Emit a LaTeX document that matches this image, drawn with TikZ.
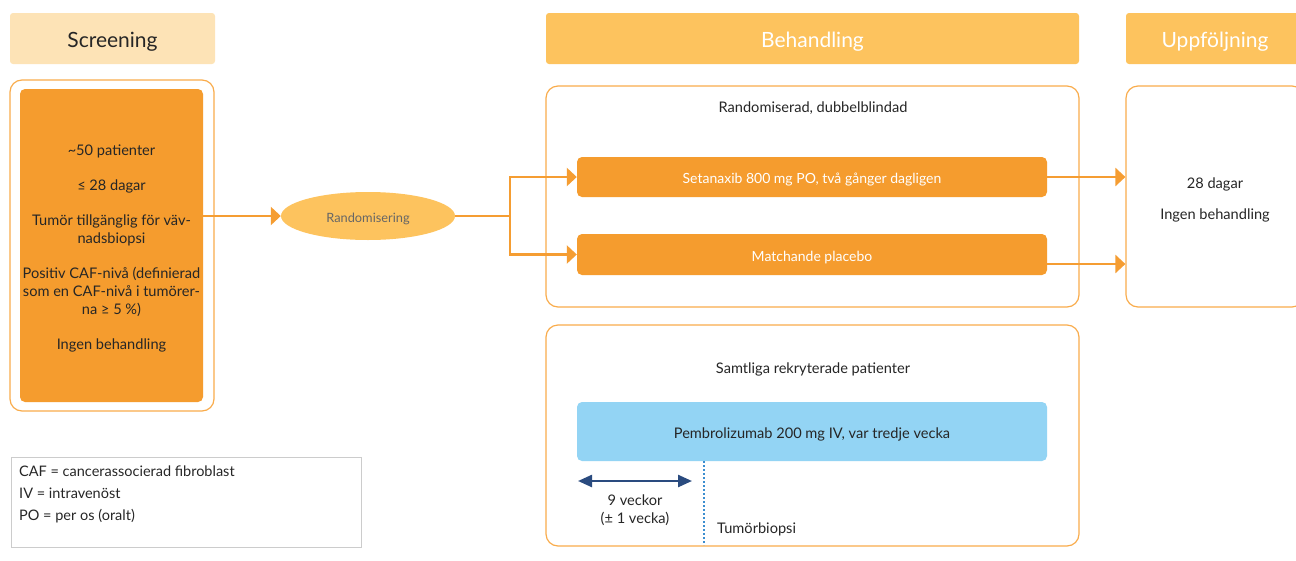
\documentclass[tikz,border=0pt]{standalone}
\usepackage{fontspec}
\setmainfont{Lato}
\usetikzlibrary{arrows.meta,shapes.geometric}
\definecolor{hdrlight}{HTML}{FDE3B6}
\definecolor{hdr}{HTML}{FDC35E}
\definecolor{obox}{HTML}{F59C2E}
\definecolor{outl}{HTML}{F9AC4C}
\definecolor{arrc}{HTML}{F59D32}
\definecolor{bluefill}{HTML}{93D4F4}
\definecolor{dblue}{HTML}{2A4B7F}
\definecolor{dotblue}{HTML}{3B8ED0}
\definecolor{txt}{HTML}{262626}
\definecolor{legb}{HTML}{CCCCCC}
\definecolor{graytxt}{HTML}{666666}
\tikzset{
  hdrbox/.style={fill=hdr, rounded corners=3pt, inner sep=0pt, text=white, font=\fontsize{21}{25}\selectfont, text height=21.5pt, text depth=4.5pt},
  framebox/.style={draw=outl, line width=1.2pt, rounded corners=12pt, fill=white, inner sep=0pt},
  armbox/.style={fill=obox, rounded corners=5pt, inner sep=0pt, text=white, font=\fontsize{14}{17}\selectfont, minimum width=470pt, text height=16.5pt, text depth=2.8pt},
  bodytxt/.style={text=txt, font=\fontsize{14.6}{17.8}\selectfont, align=center, inner sep=0pt},
  legtxt/.style={text=txt, font=\fontsize{14.5}{17}\selectfont, inner sep=0pt, anchor=base west},
  conn/.style={draw=arrc, line width=2.4pt},
  arr/.style={conn, -{Triangle[length=10pt,width=18pt]}},
}
\begin{document}
\begin{tikzpicture}[x=1pt,y=-1pt]
\useasboundingbox (0,0) rectangle (1296,560);
\clip (0,0) rectangle (1296,560);
% headers
\node[hdrbox, fill=hdrlight, text=txt, minimum width=205pt, minimum height=51pt] (hs) at (112.5,38.5) {Screening};
\node[hdrbox, minimum width=533pt, minimum height=51pt] (hb) at (812.5,38.5) {Behandling};
\node[hdrbox, minimum width=178pt, minimum height=51pt] (hu) at (1215,38.5) {Uppföljning};
% screening
\node[framebox, minimum width=204pt, minimum height=331pt] (sout) at (112,245.5) {};
\node[fill=obox, rounded corners=5pt, inner sep=0pt, minimum width=183pt, minimum height=313pt] (sin) at (111.5,245.5) {};
\node[bodytxt] (stxt) at (111.5,248.5) {\textasciitilde50 patienter\\[17.5pt]
≤ 28 dagar\\[17.5pt]
Tumör tillgänglig för väv-\\nadsbiopsi\\[17.5pt]
Positiv CAF-nivå (definierad\\som en CAF-nivå i tumörer-\\na ≥ 5 \%)\\[17.5pt]
Ingen behandling};
% randomisering
\node[ellipse, fill=hdr, minimum width=174pt, minimum height=48pt, inner sep=0pt, text=graytxt, font=\fontsize{12.8}{15}\selectfont, text height=15.6pt, text depth=2.6pt] (ell) at (368,216) {Randomisering};
\draw[arr] (sin.east |- ell.west) -- (ell.west);
% behandling upper
\node[framebox, minimum width=533pt, minimum height=221pt] (bup) at (812.5,196.5) {};
\node[bodytxt] (rtitle) at (813,108.5) {Randomiserad, dubbelblindad};
\node[armbox, minimum height=40pt] (set) at (812,177) {Setanaxib 800 mg PO, två gånger dagligen};
\node[armbox, minimum height=41pt] (pla) at (812,254.5) {Matchande placebo};
\coordinate (split) at (510,216);
\draw[conn] (ell.east) -- (split);
\draw[arr] (split) |- (set.west);
\draw[arr] (split) |- (pla.west);
% uppfoljning
\node[framebox, minimum width=178pt, minimum height=221pt] (upp) at (1215,196.5) {};
\node[bodytxt] (utxt) at (1215,200) {28 dagar\\[13.5pt]Ingen behandling};
\draw[arr] (set.east) -- (set.east -| upp.west);
\coordinate (plo) at ([yshift=-9.5pt]pla.east);
\draw[arr] (plo) -- (plo -| upp.west);
% behandling lower
\node[framebox, minimum width=533pt, minimum height=221pt] (blo) at (812.5,435.5) {};
\node[bodytxt] (stitle) at (813,369.5) {Samtliga rekryterade patienter};
\node[fill=bluefill, rounded corners=5pt, inner sep=0pt, minimum width=470pt, minimum height=59pt, text=txt, font=\fontsize{14.6}{17}\selectfont, text height=16.5pt, text depth=3pt] (pem) at (812,431.5) {Pembrolizumab 200 mg IV, var tredje vecka};
\coordinate (a1) at (578,481);
\coordinate (a2) at (692,481);
\draw[draw=dblue, line width=2.4pt, {Triangle[length=14pt,width=12pt]}-{Triangle[length=14pt,width=12pt]}] (a1) -- (a2);
\node[bodytxt] (vtxt) at (635,510.5) {9 veckor\\(± 1 vecka)};
\coordinate (d1) at (704,461);
\coordinate (d2) at (704,545);
\draw[dotblue, line width=2pt, dash pattern=on 2pt off 2pt] (d1) -- (d2);
\node[bodytxt, anchor=west] (tb) at (717,529) {Tumörbiopsi};
% legend
\node[draw=legb, line width=1pt, minimum width=350pt, minimum height=90pt, inner sep=0pt] (leg) at (186,502) {};
\node[legtxt] (l1) at (19,476.5) {CAF = cancerassocierad fibroblast};
\node[legtxt] (l2) at (19,498.5) {IV = intravenöst};
\node[legtxt] (l3) at (19,520.5) {PO = per os (oralt)};
\end{tikzpicture}
\end{document}
